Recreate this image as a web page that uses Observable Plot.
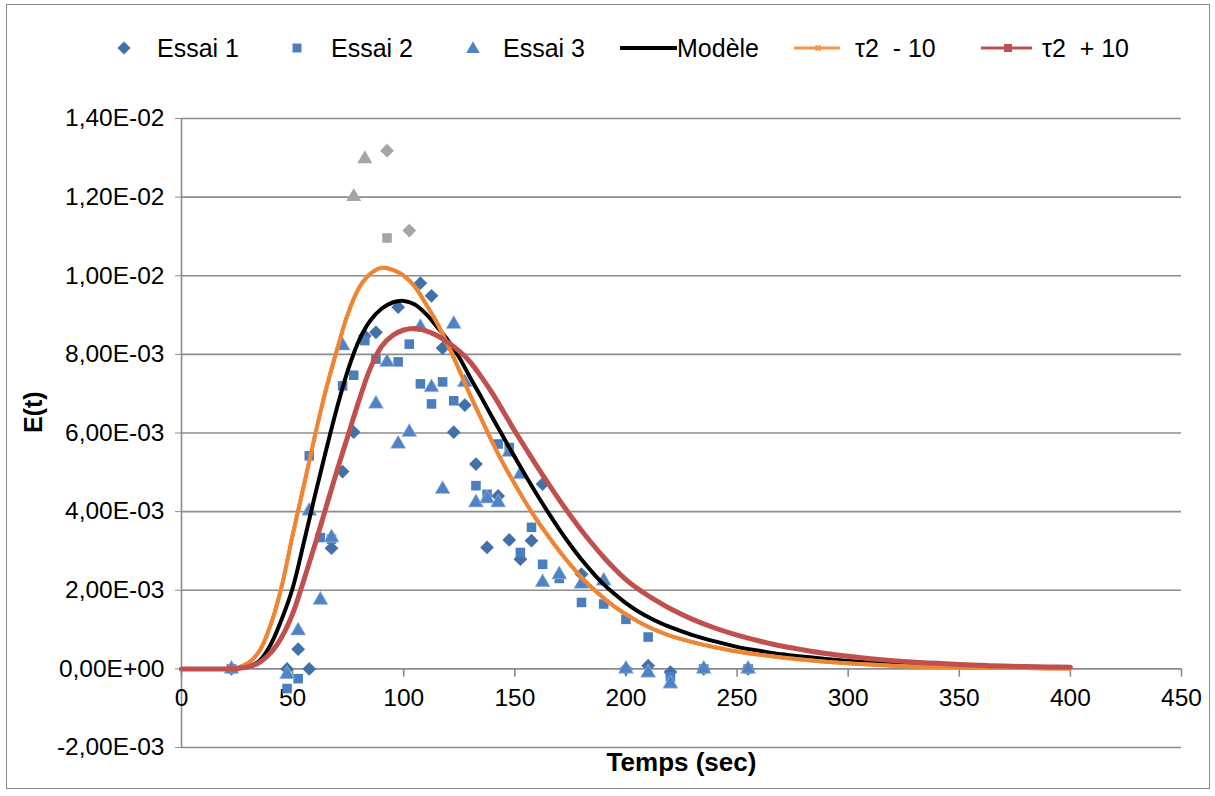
<!DOCTYPE html>
<html>
<head>
<meta charset="utf-8">
<script src="https://cdn.jsdelivr.net/npm/d3@7"></script>
<script src="https://cdn.jsdelivr.net/npm/@observablehq/plot@0.6"></script>
<style>
  body { margin: 0; background: #fff; }
  #wrap { position: relative; width: 1215px; height: 796px; background: #fff; font-family: "Liberation Sans", Arial, sans-serif; }
  #frame { position: absolute; left: 6px; top: 4px; width: 1204px; height: 785px; border: 1.5px solid #8a8a8a; box-sizing: border-box; }
  #chart { position: absolute; left: 0; top: 0; }
  #legend { position: absolute; left: 0; top: 0; }
</style>
</head>
<body>
<div id="wrap">
  <div id="frame"></div>
  <div id="chart"></div>
  <svg id="legend" width="1215" height="90"></svg>
</div>
<script>
// ---- Data (E(t) values) ----
const essai1T = [22.5, 47.5, 52.5, 57.5, 67.5, 72.5, 77.5, 82.5, 87.5, 97.5, 107.5, 112.5, 117.5, 122.5, 127.5, 132.5, 137.5, 142.5, 147.5, 152.5, 157.5, 162.5, 180, 200, 210, 220, 235, 255];
const essai1E = [0, 0, 0.5e-3, 0, 3.07e-3, 5.02e-3, 6.02e-3, 8.47e-3, 8.56e-3, 9.2e-3, 9.81e-3, 9.49e-3, 8.16e-3, 6.02e-3, 6.71e-3, 5.21e-3, 3.09e-3, 4.40e-3, 3.28e-3, 2.79e-3, 3.26e-3, 4.7e-3, 2.41e-3, 0, 0.08e-3, -0.08e-3, 0, 0];

const essai2T = [22.5, 47.5, 52.5, 57.5, 62.5, 67.5, 72.5, 77.5, 82.5, 87.5, 97.5, 102.5, 107.5, 112.5, 117.5, 122.5, 132.5, 137.5, 142.5, 147.5, 152.5, 157.5, 162.5, 170, 180, 190, 200, 210, 220, 235, 255];
const essai2E = [0, -0.5e-3, -0.25e-3, 5.42e-3, 3.34e-3, 3.3e-3, 7.2e-3, 7.47e-3, 8.35e-3, 7.88e-3, 7.81e-3, 8.26e-3, 7.25e-3, 6.74e-3, 7.3e-3, 6.82e-3, 4.66e-3, 4.44e-3, 5.72e-3, 5.63e-3, 2.96e-3, 3.6e-3, 2.66e-3, 2.3e-3, 1.69e-3, 1.65e-3, 1.26e-3, 0.81e-3, -0.2e-3, 0, 0];

const essai3T = [22.5, 47.5, 52.5, 57.5, 62.5, 67.5, 72.5, 87.5, 92.5, 97.5, 102.5, 107.5, 112.5, 117.5, 122.5, 127.5, 132.5, 137.5, 142.5, 147.5, 152.5, 162.5, 170, 180, 190, 200, 210, 220, 235, 255];
const essai3E = [0, -0.14e-3, 0.97e-3, 4.02e-3, 1.75e-3, 3.34e-3, 8.22e-3, 6.74e-3, 7.8e-3, 5.72e-3, 6.02e-3, 8.69e-3, 7.16e-3, 4.57e-3, 8.77e-3, 7.29e-3, 4.23e-3, 4.33e-3, 4.23e-3, 5.51e-3, 4.95e-3, 2.2e-3, 2.4e-3, 2.16e-3, 2.24e-3, 0, -0.1e-3, -0.38e-3, 0, 0];

// points shown in grey (outliers)
const grey1T = [92.5, 102.5];
const grey1E = [13.18e-3, 11.15e-3];
const grey2T = [92.5];
const grey2E = [10.96e-3];
const grey3T = [77.5, 82.5];
const grey3E = [12.01e-3, 12.97e-3];

// model curves
const curveT = [0,5,10,15,20,25,30,35,40,45,50,55,60,65,70,75,80,85,90,95,100,105,110,115,120,125,130,135,140,145,150,155,160,165,170,175,180,185,190,195,200,205,210,215,220,230,240,250,260,270,280,290,300,310,320,330,340,350,360,370,380,390,400];
const modele = [0,0,0,0,0,0.01e-3,0.06e-3,0.2e-3,0.6e-3,1.25e-3,2.05e-3,3.2e-3,4.4e-3,5.55e-3,6.65e-3,7.62e-3,8.37e-3,8.86e-3,9.16e-3,9.32e-3,9.36e-3,9.27e-3,9.03e-3,8.7e-3,8.35e-3,7.92e-3,7.4e-3,6.9e-3,6.38e-3,5.88e-3,5.38e-3,4.9e-3,4.43e-3,3.98e-3,3.55e-3,3.15e-3,2.78e-3,2.45e-3,2.15e-3,1.9e-3,1.67e-3,1.48e-3,1.32e-3,1.18e-3,1.06e-3,0.86e-3,0.7e-3,0.56e-3,0.46e-3,0.37e-3,0.31e-3,0.25e-3,0.2e-3,0.16e-3,0.13e-3,0.1e-3,0.08e-3,0.06e-3,0.05e-3,0.04e-3,0.03e-3,0.02e-3,0.02e-3];
const tauMinus = [0,0,0,0,0,0.03e-3,0.15e-3,0.45e-3,1.1e-3,2.08e-3,3.4e-3,4.65e-3,5.92e-3,7.1e-3,8.12e-3,9.05e-3,9.7e-3,10.05e-3,10.2e-3,10.15e-3,10.0e-3,9.72e-3,9.28e-3,8.8e-3,8.22e-3,7.6e-3,6.95e-3,6.35e-3,5.75e-3,5.2e-3,4.7e-3,4.22e-3,3.78e-3,3.38e-3,3.0e-3,2.65e-3,2.33e-3,2.05e-3,1.8e-3,1.58e-3,1.39e-3,1.22e-3,1.07e-3,0.95e-3,0.84e-3,0.68e-3,0.55e-3,0.44e-3,0.36e-3,0.29e-3,0.23e-3,0.18e-3,0.14e-3,0.11e-3,0.08e-3,0.06e-3,0.05e-3,0.04e-3,0.03e-3,0.02e-3,0.02e-3,0.01e-3,0.01e-3];
const tauPlus = [0,0,0,0,0,0.01e-3,0.05e-3,0.16e-3,0.4e-3,0.8e-3,1.4e-3,2.25e-3,3.15e-3,4.1e-3,5.05e-3,5.95e-3,6.85e-3,7.65e-3,8.2e-3,8.48e-3,8.62e-3,8.66e-3,8.6e-3,8.48e-3,8.3e-3,8.08e-3,7.8e-3,7.42e-3,7.0e-3,6.53e-3,6.05e-3,5.6e-3,5.15e-3,4.72e-3,4.3e-3,3.9e-3,3.52e-3,3.17e-3,2.84e-3,2.54e-3,2.27e-3,2.05e-3,1.86e-3,1.69e-3,1.53e-3,1.26e-3,1.04e-3,0.86e-3,0.71e-3,0.58e-3,0.48e-3,0.39e-3,0.32e-3,0.26e-3,0.21e-3,0.17e-3,0.14e-3,0.11e-3,0.09e-3,0.07e-3,0.06e-3,0.05e-3,0.04e-3];

const xTicks = [0, 50, 100, 150, 200, 250, 300, 350, 400, 450];
const yTicks = [-0.002, 0, 0.002, 0.004, 0.006, 0.008, 0.010, 0.012, 0.014];

const legendLabels = ["Essai 1", "Essai 2", "Essai 3", "Modèle", "τ2  - 10", "τ2  + 10"];

// ---- helpers ----
const zip = (T, E) => T.map((t, i) => ({t, e: E[i]}));
function fmtE(d) {
  const s = d.toExponential(2);
  const [m, e] = s.split("e");
  const sign = e[0] === "-" ? "-" : "+";
  const ex = e.replace(/^[+-]/, "").padStart(2, "0");
  return m.replace(".", ",") + "E" + sign + ex;
}

const COL1 = "#4270a8", COL2 = "#4a7ebd", COL3 = "#4f83c4", GREY = "#a5a5a5";
const GRID = "#8c8c8c";
const FS = 24.5;

const chart = Plot.plot({
  width: 1215,
  height: 796,
  marginLeft: 181,
  marginRight: 34,
  marginTop: 118,
  marginBottom: 49,
  x: {domain: [0, 450], axis: null},
  y: {domain: [-0.002, 0.014]},
  style: {fontFamily: "'Liberation Sans', Arial, sans-serif", fontSize: FS + "px", background: "transparent", color: "black", overflow: "visible"},
  marks: [
    Plot.ruleY(yTicks, {stroke: GRID, strokeWidth: 1.6}),
    Plot.ruleX([0], {stroke: GRID, strokeWidth: 1.6}),
    Plot.ruleX(xTicks, {y1: 0, y2: -0.00021, stroke: GRID, strokeWidth: 1.6}),
    Plot.axisY({ticks: yTicks, tickSize: 6, tickPadding: 11, tickFormat: fmtE, stroke: GRID, fill: "black", fontSize: FS, label: null}),
    Plot.text(xTicks, {x: d => d, y: 0, dy: 29, text: d => String(d), fontSize: FS, fill: "black"}),
    Plot.text(["E(t)"], {text: d => d, frameAnchor: "left", dx: -148, rotate: -90, fontWeight: "bold", fontSize: 25}),
    Plot.text(["Temps (sec)"], {text: d => d, frameAnchor: "bottom", dy: 23, fontWeight: "bold", fontSize: 26}),
    // data points
    Plot.dot(zip(essai1T, essai1E), {x: "t", y: "e", symbol: "diamond2", r: 6.2, fill: COL1, stroke: "none"}),
    Plot.dot(zip(essai2T, essai2E), {x: "t", y: "e", symbol: "square", r: 5.4, fill: COL2, stroke: "none"}),
    Plot.dot(zip(essai3T, essai3E), {x: "t", y: "e", symbol: "triangle", r: 5.6, fill: COL3, stroke: "#a9c3e4", strokeWidth: 0.6}),
    Plot.dot(zip(grey1T, grey1E), {x: "t", y: "e", symbol: "diamond2", r: 6.2, fill: GREY, stroke: "none"}),
    Plot.dot(zip(grey2T, grey2E), {x: "t", y: "e", symbol: "square", r: 5.4, fill: GREY, stroke: "none"}),
    Plot.dot(zip(grey3T, grey3E), {x: "t", y: "e", symbol: "triangle", r: 5.6, fill: GREY, stroke: "none"}),
    // curves
    Plot.line(zip(curveT, modele), {x: "t", y: "e", stroke: "black", strokeWidth: 4, curve: "catmull-rom"}),
    Plot.line(zip(curveT, tauMinus), {x: "t", y: "e", stroke: "#f79646", strokeWidth: 4, curve: "catmull-rom"}),
    Plot.line(zip(curveT, tauMinus), {x: "t", y: "e", stroke: "#ee8535", strokeWidth: 4, strokeDasharray: "1.5,2.5", curve: "catmull-rom"}),
    Plot.line(zip(curveT, tauPlus), {x: "t", y: "e", stroke: "#c0504d", strokeWidth: 5, curve: "catmull-rom"})
  ]
});
document.getElementById("chart").appendChild(chart);

// ---- legend ----
const svg = d3.select("#legend");
const LY = 48;
const lg = svg.append("g").attr("font-family", "'Liberation Sans', Arial, sans-serif").attr("font-size", 25);
// Essai 1 diamond
lg.append("path").attr("d", d3.symbol(d3.symbolDiamond2, 110)()).attr("transform", `translate(124,${LY})`).attr("fill", COL1);
lg.append("text").attr("x", 157).attr("y", LY).attr("dy", "0.35em").text(legendLabels[0]);
// Essai 2 square
lg.append("path").attr("d", d3.symbol(d3.symbolSquare, 80)()).attr("transform", `translate(297,${LY})`).attr("fill", COL2);
lg.append("text").attr("x", 331).attr("y", LY).attr("dy", "0.35em").text(legendLabels[1]);
// Essai 3 triangle
lg.append("path").attr("d", d3.symbol(d3.symbolTriangle, 80)()).attr("transform", `translate(473,${LY + 1})`).attr("fill", COL3);
lg.append("text").attr("x", 503).attr("y", LY).attr("dy", "0.35em").text(legendLabels[2]);
// Modèle
lg.append("line").attr("x1", 620).attr("x2", 677).attr("y1", LY).attr("y2", LY).attr("stroke", "black").attr("stroke-width", 4);
lg.append("text").attr("x", 677).attr("y", LY).attr("dy", "0.35em").text(legendLabels[3]);
// tau2 - 10
lg.append("line").attr("x1", 794).attr("x2", 840).attr("y1", LY).attr("y2", LY).attr("stroke", "#f79646").attr("stroke-width", 3);
lg.append("path").attr("d", d3.symbol(d3.symbolCross, 28)()).attr("transform", `translate(818,${LY}) rotate(45)`).attr("fill", "#f79646");
lg.append("text").attr("x", 855).attr("y", LY).attr("dy", "0.35em").attr("xml:space", "preserve").text(legendLabels[4]);
// tau2 + 10
lg.append("line").attr("x1", 981).attr("x2", 1032).attr("y1", LY).attr("y2", LY).attr("stroke", "#c0504d").attr("stroke-width", 3);
lg.append("rect").attr("x", 1004).attr("y", LY - 4).attr("width", 8).attr("height", 8).attr("fill", "#c0504d");
lg.append("text").attr("x", 1042).attr("y", LY).attr("dy", "0.35em").attr("xml:space", "preserve").text(legendLabels[5]);
</script>
</body>
</html>
